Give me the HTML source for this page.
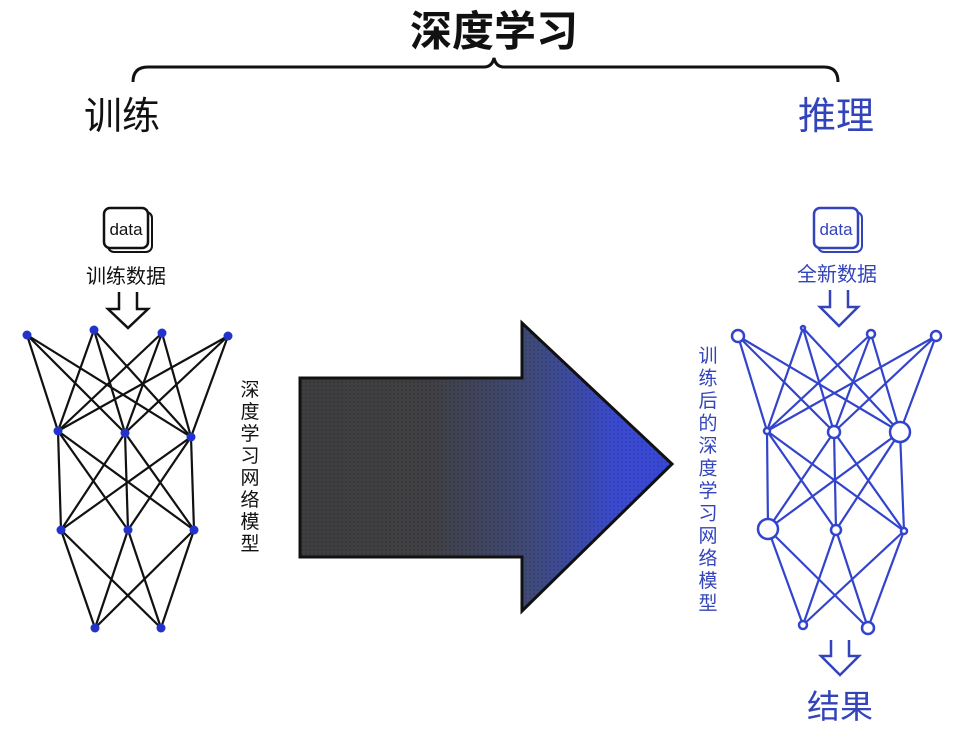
<!DOCTYPE html>
<html><head><meta charset="utf-8"><style>
html,body{margin:0;padding:0;background:#fff;}
svg{display:block;}
text{font-family:"Liberation Sans","Noto Sans CJK SC",sans-serif;}
</style></head><body>
<svg width="963" height="732" viewBox="0 0 963 732" xmlns="http://www.w3.org/2000/svg">
<defs>
<linearGradient id="g" x1="300" y1="0" x2="672" y2="0" gradientUnits="userSpaceOnUse">
<stop offset="0" stop-color="#3e3e40"/>
<stop offset="0.35" stop-color="#404044"/>
<stop offset="0.62" stop-color="#3f4a78"/>
<stop offset="0.85" stop-color="#3a4ad0"/>
<stop offset="1" stop-color="#3848d8"/>
</linearGradient>
<pattern id="dots" width="4" height="4" patternUnits="userSpaceOnUse">
<circle cx="2" cy="2" r="0.8" fill="#000" fill-opacity="0.25"/>
</pattern>
</defs>

<text x="494" y="46" font-size="42" font-weight="bold" text-anchor="middle" fill="#111">深度学习</text>
<path d="M133 82 Q133 67 148 67 L484 67 Q492 67 494 58 Q496 67 504 67 L824 67 Q838 67 838 82" fill="none" stroke="#111" stroke-width="3"/>
<text x="84" y="129" font-size="38" fill="#111">训练</text>
<text x="798" y="129" font-size="38" fill="#3344bb">推理</text>

<!-- left data icon -->
<rect x="108" y="212" width="44" height="40" rx="6" fill="#fff" stroke="#111" stroke-width="2"/>
<rect x="104" y="208" width="44" height="40" rx="6" fill="#fff" stroke="#111" stroke-width="2.5"/>
<text x="126" y="235" font-size="17" text-anchor="middle" fill="#111">data</text>
<text x="126" y="283" font-size="20" text-anchor="middle" fill="#111">训练数据</text>
<path d="M119 292 L119 309 L108 309 L128 328 L148 309 L137 309 L137 292" fill="none" stroke="#111" stroke-width="2.5"/>

<!-- left network -->
<g stroke="#111" stroke-width="2.2">
<line x1="27" y1="335" x2="58" y2="431"/><line x1="27" y1="335" x2="125" y2="433"/><line x1="27" y1="335" x2="191" y2="437"/>
<line x1="94" y1="330" x2="58" y2="431"/><line x1="94" y1="330" x2="125" y2="433"/><line x1="94" y1="330" x2="191" y2="437"/>
<line x1="162" y1="333" x2="58" y2="431"/><line x1="162" y1="333" x2="125" y2="433"/><line x1="162" y1="333" x2="191" y2="437"/>
<line x1="228" y1="336" x2="58" y2="431"/><line x1="228" y1="336" x2="125" y2="433"/><line x1="228" y1="336" x2="191" y2="437"/>
<line x1="58" y1="431" x2="61" y2="530"/><line x1="58" y1="431" x2="128" y2="530"/><line x1="58" y1="431" x2="194" y2="530"/>
<line x1="125" y1="433" x2="61" y2="530"/><line x1="125" y1="433" x2="128" y2="530"/><line x1="125" y1="433" x2="194" y2="530"/>
<line x1="191" y1="437" x2="61" y2="530"/><line x1="191" y1="437" x2="128" y2="530"/><line x1="191" y1="437" x2="194" y2="530"/>
<line x1="61" y1="530" x2="95" y2="628"/><line x1="61" y1="530" x2="161" y2="628"/>
<line x1="128" y1="530" x2="95" y2="628"/><line x1="128" y1="530" x2="161" y2="628"/>
<line x1="194" y1="530" x2="95" y2="628"/><line x1="194" y1="530" x2="161" y2="628"/>
</g>
<g fill="#2233cc">
<circle cx="27" cy="335" r="4.5"/><circle cx="94" cy="330" r="4.5"/><circle cx="162" cy="333" r="4.5"/><circle cx="228" cy="336" r="4.5"/>
<circle cx="58" cy="431" r="4.5"/><circle cx="125" cy="433" r="4.5"/><circle cx="191" cy="437" r="4.5"/>
<circle cx="61" cy="530" r="4.5"/><circle cx="128" cy="530" r="4.5"/><circle cx="194" cy="530" r="4.5"/>
<circle cx="95" cy="628" r="4.5"/><circle cx="161" cy="628" r="4.5"/>
</g>
<text font-size="19" fill="#111" text-anchor="middle">
<tspan x="250" y="396">深</tspan><tspan x="250" y="418">度</tspan><tspan x="250" y="440">学</tspan><tspan x="250" y="462">习</tspan><tspan x="250" y="484">网</tspan><tspan x="250" y="506">络</tspan><tspan x="250" y="528">模</tspan><tspan x="250" y="550">型</tspan>
</text>

<!-- big arrow -->
<path d="M300 378 L522 378 L522 323 L672 464 L522 611 L522 557 L300 557 Z" fill="url(#g)"/>
<path d="M300 378 L522 378 L522 323 L672 464 L522 611 L522 557 L300 557 Z" fill="url(#dots)" stroke="#111" stroke-width="3"/>

<!-- right data icon -->
<rect x="818" y="212" width="44" height="40" rx="6" fill="#fff" stroke="#3344bb" stroke-width="2"/>
<rect x="814" y="208" width="44" height="40" rx="6" fill="#fff" stroke="#3344bb" stroke-width="2.5"/>
<text x="836" y="235" font-size="17" text-anchor="middle" fill="#3344bb">data</text>
<text x="837" y="281" font-size="20" text-anchor="middle" fill="#3344bb">全新数据</text>
<path d="M830 290 L830 307 L820 307 L839 326 L858 307 L848 307 L848 290" fill="none" stroke="#3344bb" stroke-width="2.5"/>

<g stroke="#3344cc" stroke-width="2.2">
<line x1="738" y1="336" x2="767" y2="431"/><line x1="738" y1="336" x2="834" y2="432"/><line x1="738" y1="336" x2="900" y2="432"/>
<line x1="803" y1="328" x2="767" y2="431"/><line x1="803" y1="328" x2="834" y2="432"/><line x1="803" y1="328" x2="900" y2="432"/>
<line x1="871" y1="334" x2="767" y2="431"/><line x1="871" y1="334" x2="834" y2="432"/><line x1="871" y1="334" x2="900" y2="432"/>
<line x1="936" y1="336" x2="767" y2="431"/><line x1="936" y1="336" x2="834" y2="432"/><line x1="936" y1="336" x2="900" y2="432"/>
<line x1="767" y1="431" x2="768" y2="529"/><line x1="767" y1="431" x2="836" y2="530"/><line x1="767" y1="431" x2="904" y2="531"/>
<line x1="834" y1="432" x2="768" y2="529"/><line x1="834" y1="432" x2="836" y2="530"/><line x1="834" y1="432" x2="904" y2="531"/>
<line x1="900" y1="432" x2="768" y2="529"/><line x1="900" y1="432" x2="836" y2="530"/><line x1="900" y1="432" x2="904" y2="531"/>
<line x1="768" y1="529" x2="803" y2="625"/><line x1="768" y1="529" x2="868" y2="628"/>
<line x1="836" y1="530" x2="803" y2="625"/><line x1="836" y1="530" x2="868" y2="628"/>
<line x1="904" y1="531" x2="803" y2="625"/><line x1="904" y1="531" x2="868" y2="628"/>
</g>
<g fill="#fff" stroke="#3344cc" stroke-width="2.5">
<circle cx="738" cy="336" r="6"/><circle cx="803" cy="328" r="2"/><circle cx="871" cy="334" r="4"/><circle cx="936" cy="336" r="5"/>
<circle cx="767" cy="431" r="3"/><circle cx="834" cy="432" r="6"/><circle cx="900" cy="432" r="10"/>
<circle cx="768" cy="529" r="10"/><circle cx="836" cy="530" r="5"/><circle cx="904" cy="531" r="3"/>
<circle cx="803" cy="625" r="4"/><circle cx="868" cy="628" r="6"/>
</g>
<text font-size="19" fill="#3344bb" text-anchor="middle">
<tspan x="708" y="362">训</tspan><tspan x="708" y="384.5">练</tspan><tspan x="708" y="407">后</tspan><tspan x="708" y="429.5">的</tspan><tspan x="708" y="452">深</tspan><tspan x="708" y="474.5">度</tspan><tspan x="708" y="497">学</tspan><tspan x="708" y="519.5">习</tspan><tspan x="708" y="542">网</tspan><tspan x="708" y="564.5">络</tspan><tspan x="708" y="587">模</tspan><tspan x="708" y="609.5">型</tspan>
</text>
<path d="M831 640 L831 656 L821 656 L840 675 L859 656 L849 656 L849 640" fill="none" stroke="#3344bb" stroke-width="2.5"/>
<text x="840" y="718" font-size="33" text-anchor="middle" fill="#3344bb">结果</text>
</svg>
</body></html>
